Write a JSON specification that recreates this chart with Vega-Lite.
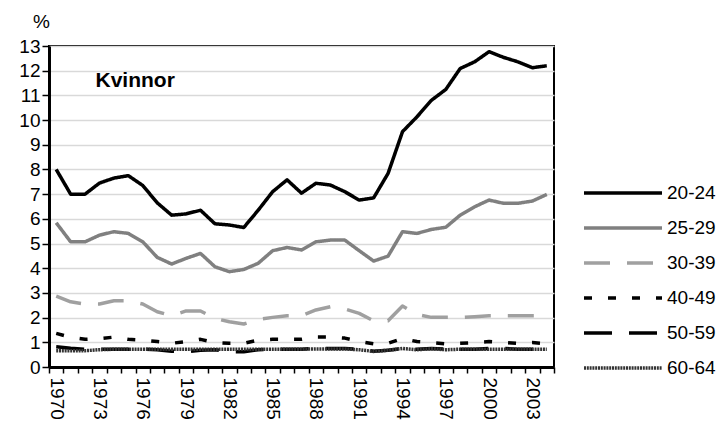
{
  "$schema": "https://vega.github.io/schema/vega-lite/v6.json",
  "width": 505,
  "height": 321,
  "autosize": {"type": "none"},
  "padding": {"left": 49, "top": 46, "right": 168, "bottom": 65},
  "background": "white",
  "config": {
    "font": "Liberation Sans",
    "view": {"stroke": "#000", "strokeWidth": 2},
    "axis": {"labelColor": "#000", "labelFontSize": 19, "tickColor": "#000", "domainColor": "#000", "domainWidth": 3, "tickWidth": 1.5},
    "legend": {"labelFontSize": 19}
  },
  "data": {
    "values": [
      {"year":1970,"g":"20-24","v":8.0},{"year":1971,"g":"20-24","v":7.0},{"year":1972,"g":"20-24","v":7.0},{"year":1973,"g":"20-24","v":7.45},{"year":1974,"g":"20-24","v":7.65},{"year":1975,"g":"20-24","v":7.75},{"year":1976,"g":"20-24","v":7.35},{"year":1977,"g":"20-24","v":6.65},{"year":1978,"g":"20-24","v":6.15},{"year":1979,"g":"20-24","v":6.2},{"year":1980,"g":"20-24","v":6.35},{"year":1981,"g":"20-24","v":5.8},{"year":1982,"g":"20-24","v":5.75},{"year":1983,"g":"20-24","v":5.65},{"year":1984,"g":"20-24","v":6.35},{"year":1985,"g":"20-24","v":7.1},{"year":1986,"g":"20-24","v":7.58},{"year":1987,"g":"20-24","v":7.04},{"year":1988,"g":"20-24","v":7.44},{"year":1989,"g":"20-24","v":7.37},{"year":1990,"g":"20-24","v":7.1},{"year":1991,"g":"20-24","v":6.76},{"year":1992,"g":"20-24","v":6.85},{"year":1993,"g":"20-24","v":7.84},{"year":1994,"g":"20-24","v":9.53},{"year":1995,"g":"20-24","v":10.13},{"year":1996,"g":"20-24","v":10.8},{"year":1997,"g":"20-24","v":11.24},{"year":1998,"g":"20-24","v":12.09},{"year":1999,"g":"20-24","v":12.36},{"year":2000,"g":"20-24","v":12.77},{"year":2001,"g":"20-24","v":12.54},{"year":2002,"g":"20-24","v":12.36},{"year":2003,"g":"20-24","v":12.12},{"year":2004,"g":"20-24","v":12.2},
      {"year":1970,"g":"25-29","v":5.84},{"year":1971,"g":"25-29","v":5.07},{"year":1972,"g":"25-29","v":5.07},{"year":1973,"g":"25-29","v":5.34},{"year":1974,"g":"25-29","v":5.48},{"year":1975,"g":"25-29","v":5.41},{"year":1976,"g":"25-29","v":5.07},{"year":1977,"g":"25-29","v":4.44},{"year":1978,"g":"25-29","v":4.17},{"year":1979,"g":"25-29","v":4.4},{"year":1980,"g":"25-29","v":4.6},{"year":1981,"g":"25-29","v":4.06},{"year":1982,"g":"25-29","v":3.86},{"year":1983,"g":"25-29","v":3.95},{"year":1984,"g":"25-29","v":4.2},{"year":1985,"g":"25-29","v":4.71},{"year":1986,"g":"25-29","v":4.84},{"year":1987,"g":"25-29","v":4.74},{"year":1988,"g":"25-29","v":5.07},{"year":1989,"g":"25-29","v":5.14},{"year":1990,"g":"25-29","v":5.14},{"year":1991,"g":"25-29","v":4.71},{"year":1992,"g":"25-29","v":4.29},{"year":1993,"g":"25-29","v":4.49},{"year":1994,"g":"25-29","v":5.48},{"year":1995,"g":"25-29","v":5.41},{"year":1996,"g":"25-29","v":5.57},{"year":1997,"g":"25-29","v":5.66},{"year":1998,"g":"25-29","v":6.15},{"year":1999,"g":"25-29","v":6.49},{"year":2000,"g":"25-29","v":6.76},{"year":2001,"g":"25-29","v":6.63},{"year":2002,"g":"25-29","v":6.63},{"year":2003,"g":"25-29","v":6.72},{"year":2004,"g":"25-29","v":6.99},
      {"year":1970,"g":"30-39","v":2.87},{"year":1971,"g":"30-39","v":2.64},{"year":1972,"g":"30-39","v":2.55},{"year":1973,"g":"30-39","v":2.55},{"year":1974,"g":"30-39","v":2.68},{"year":1975,"g":"30-39","v":2.68},{"year":1976,"g":"30-39","v":2.55},{"year":1977,"g":"30-39","v":2.24},{"year":1978,"g":"30-39","v":2.08},{"year":1979,"g":"30-39","v":2.27},{"year":1980,"g":"30-39","v":2.27},{"year":1981,"g":"30-39","v":1.97},{"year":1982,"g":"30-39","v":1.83},{"year":1983,"g":"30-39","v":1.74},{"year":1984,"g":"30-39","v":1.93},{"year":1985,"g":"30-39","v":2.01},{"year":1986,"g":"30-39","v":2.08},{"year":1987,"g":"30-39","v":2.08},{"year":1988,"g":"30-39","v":2.31},{"year":1989,"g":"30-39","v":2.44},{"year":1990,"g":"30-39","v":2.35},{"year":1991,"g":"30-39","v":2.17},{"year":1992,"g":"30-39","v":1.87},{"year":1993,"g":"30-39","v":1.87},{"year":1994,"g":"30-39","v":2.47},{"year":1995,"g":"30-39","v":2.13},{"year":1996,"g":"30-39","v":2.01},{"year":1997,"g":"30-39","v":2.01},{"year":1998,"g":"30-39","v":2.01},{"year":1999,"g":"30-39","v":2.04},{"year":2000,"g":"30-39","v":2.08},{"year":2001,"g":"30-39","v":2.08},{"year":2002,"g":"30-39","v":2.08},{"year":2003,"g":"30-39","v":2.08},{"year":2004,"g":"30-39","v":2.08},
      {"year":1970,"g":"40-49","v":1.36},{"year":1971,"g":"40-49","v":1.2},{"year":1972,"g":"40-49","v":1.12},{"year":1973,"g":"40-49","v":1.15},{"year":1974,"g":"40-49","v":1.21},{"year":1975,"g":"40-49","v":1.12},{"year":1976,"g":"40-49","v":1.09},{"year":1977,"g":"40-49","v":1.03},{"year":1978,"g":"40-49","v":0.96},{"year":1979,"g":"40-49","v":1.03},{"year":1980,"g":"40-49","v":1.12},{"year":1981,"g":"40-49","v":0.99},{"year":1982,"g":"40-49","v":0.96},{"year":1983,"g":"40-49","v":0.96},{"year":1984,"g":"40-49","v":1.09},{"year":1985,"g":"40-49","v":1.12},{"year":1986,"g":"40-49","v":1.12},{"year":1987,"g":"40-49","v":1.12},{"year":1988,"g":"40-49","v":1.21},{"year":1989,"g":"40-49","v":1.21},{"year":1990,"g":"40-49","v":1.17},{"year":1991,"g":"40-49","v":1.03},{"year":1992,"g":"40-49","v":0.94},{"year":1993,"g":"40-49","v":0.96},{"year":1994,"g":"40-49","v":1.15},{"year":1995,"g":"40-49","v":1.03},{"year":1996,"g":"40-49","v":0.99},{"year":1997,"g":"40-49","v":0.94},{"year":1998,"g":"40-49","v":0.96},{"year":1999,"g":"40-49","v":0.99},{"year":2000,"g":"40-49","v":1.03},{"year":2001,"g":"40-49","v":0.99},{"year":2002,"g":"40-49","v":0.96},{"year":2003,"g":"40-49","v":0.99},{"year":2004,"g":"40-49","v":0.94},
      {"year":1970,"g":"50-59","v":0.82},{"year":1971,"g":"50-59","v":0.76},{"year":1972,"g":"50-59","v":0.72},{"year":1973,"g":"50-59","v":0.72},{"year":1974,"g":"50-59","v":0.72},{"year":1975,"g":"50-59","v":0.72},{"year":1976,"g":"50-59","v":0.72},{"year":1977,"g":"50-59","v":0.7},{"year":1978,"g":"50-59","v":0.64},{"year":1979,"g":"50-59","v":0.62},{"year":1980,"g":"50-59","v":0.68},{"year":1981,"g":"50-59","v":0.7},{"year":1982,"g":"50-59","v":0.62},{"year":1983,"g":"50-59","v":0.62},{"year":1984,"g":"50-59","v":0.7},{"year":1985,"g":"50-59","v":0.72},{"year":1986,"g":"50-59","v":0.72},{"year":1987,"g":"50-59","v":0.72},{"year":1988,"g":"50-59","v":0.75},{"year":1989,"g":"50-59","v":0.75},{"year":1990,"g":"50-59","v":0.75},{"year":1991,"g":"50-59","v":0.72},{"year":1992,"g":"50-59","v":0.64},{"year":1993,"g":"50-59","v":0.68},{"year":1994,"g":"50-59","v":0.75},{"year":1995,"g":"50-59","v":0.72},{"year":1996,"g":"50-59","v":0.75},{"year":1997,"g":"50-59","v":0.72},{"year":1998,"g":"50-59","v":0.72},{"year":1999,"g":"50-59","v":0.72},{"year":2000,"g":"50-59","v":0.75},{"year":2001,"g":"50-59","v":0.75},{"year":2002,"g":"50-59","v":0.72},{"year":2003,"g":"50-59","v":0.72},{"year":2004,"g":"50-59","v":0.72},
      {"year":1970,"g":"60-64","v":0.66},{"year":1971,"g":"60-64","v":0.66},{"year":1972,"g":"60-64","v":0.66},{"year":1973,"g":"60-64","v":0.7},{"year":1974,"g":"60-64","v":0.72},{"year":1975,"g":"60-64","v":0.72},{"year":1976,"g":"60-64","v":0.72},{"year":1977,"g":"60-64","v":0.72},{"year":1978,"g":"60-64","v":0.72},{"year":1979,"g":"60-64","v":0.72},{"year":1980,"g":"60-64","v":0.72},{"year":1981,"g":"60-64","v":0.72},{"year":1982,"g":"60-64","v":0.72},{"year":1983,"g":"60-64","v":0.72},{"year":1984,"g":"60-64","v":0.72},{"year":1985,"g":"60-64","v":0.72},{"year":1986,"g":"60-64","v":0.72},{"year":1987,"g":"60-64","v":0.72},{"year":1988,"g":"60-64","v":0.73},{"year":1989,"g":"60-64","v":0.73},{"year":1990,"g":"60-64","v":0.73},{"year":1991,"g":"60-64","v":0.7},{"year":1992,"g":"60-64","v":0.63},{"year":1993,"g":"60-64","v":0.68},{"year":1994,"g":"60-64","v":0.75},{"year":1995,"g":"60-64","v":0.7},{"year":1996,"g":"60-64","v":0.74},{"year":1997,"g":"60-64","v":0.7},{"year":1998,"g":"60-64","v":0.72},{"year":1999,"g":"60-64","v":0.72},{"year":2000,"g":"60-64","v":0.72},{"year":2001,"g":"60-64","v":0.72},{"year":2002,"g":"60-64","v":0.72},{"year":2003,"g":"60-64","v":0.72},{"year":2004,"g":"60-64","v":0.72}
    ]
  },
  "encoding": {
    "x": {
      "field": "year", "type": "ordinal",
      "scale": {"type": "band", "paddingInner": 0, "paddingOuter": 0},
      "axis": {"title": null, "labelAngle": 90, "labelFontSize": 19, "labelOverlap": false, "labelExpr": "datum.value % 3 == 2 ? datum.label : ''", "tickBand": "extent", "tickSize": 6, "labelPadding": 4, "grid": false}
    },
    "y": {
      "field": "v", "type": "quantitative",
      "scale": {"domain": [0, 13], "nice": false},
      "axis": {"values": [0,1,2,3,4,5,6,7,8,9,10,11,12,13], "labelFontSize": 19, "labelOverlap": false, "labelFlush": false, "tickSize": 7, "labelPadding": 2, "gridColor": "#d9d9d9", "gridWidth": 1.5, "title": "%", "titleAngle": 0, "titleX": -8, "titleY": -19, "titleAlign": "center", "titleBaseline": "alphabetic", "titleFontSize": 19, "titleFontWeight": "normal", "titleColor": "#000"}
    }
  },
  "layer": [
    {
      "mark": {"type": "line", "strokeCap": "butt", "strokeJoin": "round"},
      "encoding": {
        "color": {
          "field": "g", "type": "nominal",
          "scale": {"domain": ["20-24","25-29","30-39","40-49","50-59","60-64"], "range": ["#000000","#808080","#a0a0a0","#000000","#000000","#333333"]},
          "legend": {"title": null, "orient": "none", "legendX": 533, "legendY": 137, "symbolType": "stroke", "symbolSize": 6084, "clipHeight": 20, "labelFontSize": 19, "labelColor": "#000", "labelOffset": 3, "rowPadding": 15, "padding": 0}
        },
        "strokeDash": {
          "field": "g", "type": "nominal",
          "scale": {"domain": ["20-24","25-29","30-39","40-49","50-59","60-64"], "range": [[1,0],[1,0],[26,17],[8,16],[28,17],[2,0.8]]},
          "legend": {"title": null, "orient": "none", "legendX": 533, "legendY": 137, "symbolType": "stroke", "symbolSize": 6084, "clipHeight": 20, "labelFontSize": 19, "labelColor": "#000", "labelOffset": 3, "rowPadding": 15, "padding": 0}
        },
        "strokeWidth": {
          "field": "g", "type": "nominal",
          "scale": {"domain": ["20-24","25-29","30-39","40-49","50-59","60-64"], "range": [3.5,3.5,4,4,5,5]},
          "legend": {"title": null, "orient": "none", "legendX": 533, "legendY": 137, "symbolType": "stroke", "symbolSize": 6084, "clipHeight": 20, "labelFontSize": 19, "labelColor": "#000", "labelOffset": 3, "rowPadding": 15, "padding": 0}
        }
      }
    },
    {
      "data": {"values": [{"year": 1973, "v": 11.35, "label": "Kvinnor"}]},
      "mark": {"type": "text", "align": "left", "baseline": "alphabetic", "fontSize": 21, "fontWeight": "bold", "dx": -4, "color": "#000"},
      "encoding": {
        "text": {"field": "label"}
      }
    }
  ]
}
